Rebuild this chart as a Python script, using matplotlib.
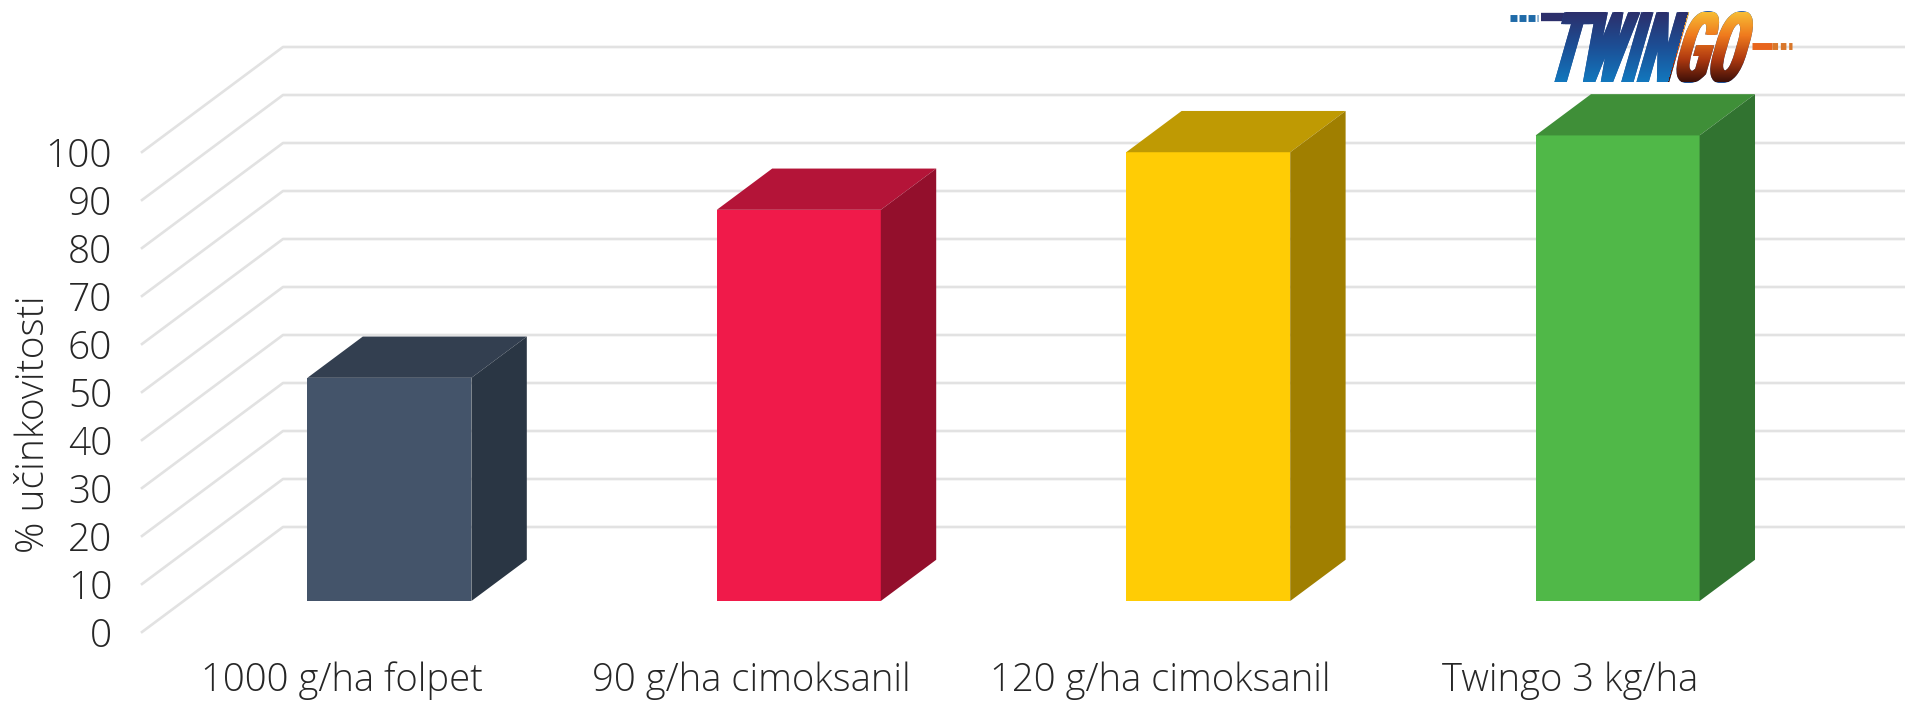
import numpy as np
import matplotlib
matplotlib.use('Agg')
import matplotlib.pyplot as plt
from matplotlib.colors import LinearSegmentedColormap
from matplotlib.patches import Polygon, PathPatch
from matplotlib.patheffects import AbstractPathEffect
from matplotlib.path import Path
from matplotlib.textpath import TextPath
from matplotlib.font_manager import FontProperties
from matplotlib.transforms import Affine2D

categories = ['1000 g/ha folpet', '90 g/ha cimoksanil', '120 g/ha cimoksanil', 'Twingo 3 kg/ha']
values = [46.5, 81.5, 93.5, 97]
front_colors = ['#44546a', '#f01a4a', '#ffcc05', '#50b848']
top_colors = ['#333f50', '#b41438', '#bf9a03', '#3f8f38']
side_colors = ['#2a3644', '#930f2c', '#a07f00', '#317330']
yticks = list(range(0, 101, 10))

W, H = 1905, 701
x0_px, step_px = 344, 409.4
left_px, floor_px = 142, 632
val_px = 4.8
grid_dx = 141 / step_px
grid_dy = 105 / val_px
bar_w = 164 / step_px
bar_shift = 3.8 / step_px
d0, d1 = 0.295, 0.688

font = 'Open Sans'
txt = '#262626'

fig = plt.figure(figsize=(W / 100, H / 100), dpi=100)
ax = fig.add_axes([left_px / W, (H - floor_px) / H, (W - left_px) / W, floor_px / H])
ax.set_xlim((left_px - x0_px) / step_px, (W - x0_px) / step_px)
ax.set_ylim(0, floor_px / val_px)
for s in ax.spines.values():
    s.set_visible(False)

xl = ax.get_xlim()
for v in yticks:
    ax.plot([xl[0], xl[0] + grid_dx, xl[1]], [v, v + grid_dy, v + grid_dy],
            color='#e2e2e2', lw=1.9, clip_on=False, zorder=1)

for i, v in enumerate(values):
    a = i - bar_w / 2 + d0 * grid_dx + bar_shift
    b = a + bar_w
    y0 = d0 * grid_dy
    top = y0 + v
    ddx = (d1 - d0) * grid_dx
    ddy = (d1 - d0) * grid_dy
    ax.add_patch(Polygon([[a, y0], [b, y0], [b, top], [a, top]],
                         fc=front_colors[i], ec='none', zorder=3))
    ax.add_patch(Polygon([[a, top], [b, top], [b + ddx, top + ddy], [a + ddx, top + ddy]],
                         fc=top_colors[i], ec='none', zorder=3))
    ax.add_patch(Polygon([[b, y0], [b + ddx, y0 + ddy], [b + ddx, top + ddy], [b, top]],
                         fc=side_colors[i], ec='none', zorder=3))

ax.set_yticks(yticks)
ax.set_xticks([i - 2.4 / step_px for i in range(len(categories))])
ax.set_xticklabels(categories)
ax.tick_params(axis='y', length=0, pad=21.5, labelsize=28, labelcolor=txt)
ax.tick_params(axis='x', length=0, pad=21, labelsize=27.5, labelcolor=txt)
for t in ax.get_xticklabels() + ax.get_yticklabels():
    t.set_fontfamily(font)
    t.set_fontweight('light')
fig.text(34 / W, 1 - 424 / H, '% učinkovitosti', rotation=90, ha='center', va='center',
         fontsize=28, color=txt, family=font, weight='light')

# logo: one real text, squeezed and slanted, gradient laid over it
lg = fig.add_axes([1500 / W, 1 - 100 / H, 310 / W, 100 / H])
lg.axis('off')
twin_cmap = LinearSegmentedColormap.from_list('twin', ['#2c2f6b', '#1c4f96', '#1278be'])
go_cmap = LinearSegmentedColormap.from_list('go', ['#f7bd35', '#ef7a1e', '#b03a10', '#3d0f08'])
logo_fp = FontProperties(family='Roboto Condensed', weight='bold')
logo_skew = 16
logo_x, logo_base = 1543, 82
fat = (-2, 0, 2)


class Squeeze(AbstractPathEffect):
    def __init__(self, matrix):
        super().__init__()
        self.matrix = matrix

    def draw_path(self, renderer, gc, tpath, affine, rgbFace=None):
        for dx in fat:
            renderer.draw_path(gc, tpath, affine + self.matrix + Affine2D().translate(dx, 0), rgbFace)


em = 98.0
tp = TextPath((0, 0), 'TWINGO', size=em, prop=logo_fp)
sx = (1757 - logo_x - 24) / tp.get_extents().width
split = TextPath((0, 0), 'TWIN', size=em, prop=logo_fp).get_extents().x1 * sx + 1
px, py = logo_x + 2, H - logo_base
m = Affine2D().translate(-px, -py).scale(sx, 1).skew_deg(logo_skew, 0).translate(px, py)
t = lg.text(px, logo_base, 'TWINGO', fontproperties=logo_fp, fontsize=em * 0.72, color='#1c4f96',
            va='baseline', ha='left', zorder=4)
t.set_path_effects([Squeeze(m)])

# gradient: blue left of the slanted split, orange right of it
ext = [1530, 1770, logo_base, 12]
xs, ys = np.meshgrid(np.arange(ext[0], ext[1]) + 0.5, np.arange(ext[3], ext[2]) + 0.5)
rows = (ys - ext[3]) / (ext[2] - ext[3])
is_twin = xs - px - (logo_base - ys) * np.tan(np.radians(logo_skew)) < split
rgba = np.where(is_twin[..., None], twin_cmap(rows), go_cmap(rows))
base = Affine2D().scale(sx, 1).skew_deg(logo_skew, 0).translate(px, py)
fat_path = Path.make_compound_path(*[tp.transformed(Affine2D().translate(dx / sx, 0)) for dx in fat])
im = lg.imshow(rgba, extent=[ext[0], ext[1], ext[2], ext[3]], aspect='auto', zorder=5, interpolation='nearest')
im.set_clip_path(PathPatch(fat_path, transform=base))

lg.set_xlim(1500, 1810)
lg.set_ylim(100, 0)
lg.plot([1541, 1590], [17, 17], color='#2c2f6b', lw=6, solid_capstyle='butt', zorder=3)
lg.plot([1510, 1538], [18, 18], color='#1f6aa8', lw=5, ls=(0, (1.0, 0.3)), zorder=3)
lg.plot([1752, 1772], [46, 46], color='#e8641c', lw=5, solid_capstyle='butt', zorder=3)
lg.plot([1772, 1792], [46, 46], color='#d9772a', lw=5, ls=(0, (0.8, 0.4)), zorder=3)

fig.savefig('out.png', dpi=100)
